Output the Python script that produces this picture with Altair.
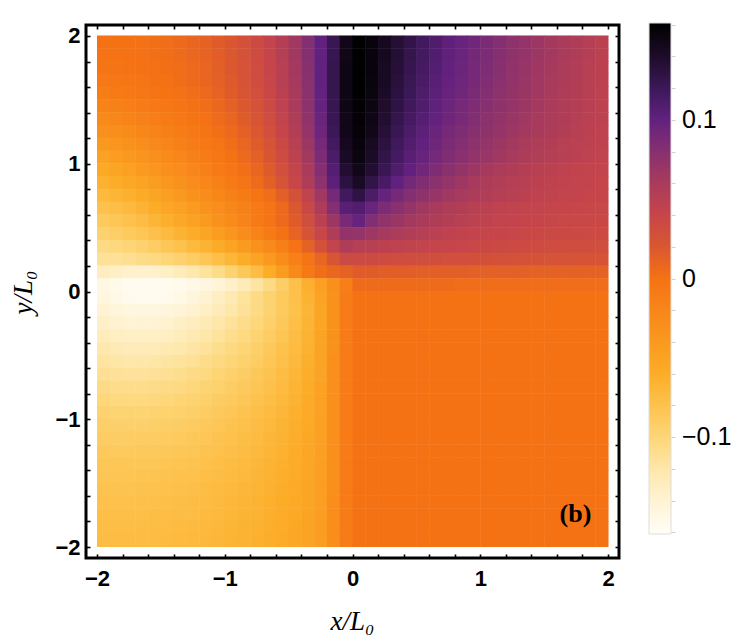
import altair as alt
import pandas as pd

# ---- grid: 40 x 40 cells of 0.1 x 0.1 (x/L0, y/L0) ----
x_centers = [-1.95, -1.85, -1.75, -1.65, -1.55, -1.45, -1.35, -1.25, -1.15, -1.05,
             -0.95, -0.85, -0.75, -0.65, -0.55, -0.45, -0.35, -0.25, -0.15, -0.05,
             0.05, 0.15, 0.25, 0.35, 0.45, 0.55, 0.65, 0.75, 0.85, 0.95,
             1.05, 1.15, 1.25, 1.35, 1.45, 1.55, 1.65, 1.75, 1.85, 1.95]
y_centers = [1.95, 1.85, 1.75, 1.65, 1.55, 1.45, 1.35, 1.25, 1.15, 1.05,
             0.95, 0.85, 0.75, 0.65, 0.55, 0.45, 0.35, 0.25, 0.15, 0.05,
             -0.05, -0.15, -0.25, -0.35, -0.45, -0.55, -0.65, -0.75, -0.85, -0.95,
             -1.05, -1.15, -1.25, -1.35, -1.45, -1.55, -1.65, -1.75, -1.85, -1.95]
half_cell = 0.05
overlap = 0.004

# ---- field values (x < 0 half, then x > 0 half) ----
r_p195 = [0.0, 0.0, 0.0, 0.001, 0.002, 0.004, 0.006, 0.009, 0.012, 0.016, 0.021, 0.027, 0.034, 0.042, 0.053, 0.066, 0.082, 0.1, 0.122, 0.148] + \
         [0.16, 0.155, 0.145, 0.135, 0.126, 0.117, 0.109, 0.102, 0.097, 0.092, 0.087, 0.082, 0.077, 0.072, 0.068, 0.064, 0.06, 0.056, 0.052, 0.048]
r_p185 = [-0.001, -0.001, 0.0, 0.001, 0.002, 0.003, 0.005, 0.008, 0.011, 0.015, 0.02, 0.026, 0.033, 0.041, 0.052, 0.065, 0.081, 0.1, 0.123, 0.149] + \
         [0.16, 0.155, 0.145, 0.135, 0.125, 0.116, 0.108, 0.101, 0.096, 0.091, 0.086, 0.081, 0.076, 0.072, 0.068, 0.064, 0.06, 0.056, 0.052, 0.048]
r_p175 = [-0.003, -0.002, -0.001, 0.0, 0.001, 0.002, 0.004, 0.007, 0.01, 0.014, 0.019, 0.025, 0.032, 0.04, 0.051, 0.064, 0.08, 0.1, 0.124, 0.15] + \
         [0.16, 0.155, 0.144, 0.134, 0.124, 0.115, 0.107, 0.1, 0.095, 0.09, 0.085, 0.08, 0.075, 0.071, 0.067, 0.063, 0.059, 0.055, 0.051, 0.048]
r_p165 = [-0.006, -0.005, -0.004, -0.002, 0.0, 0.001, 0.003, 0.006, 0.009, 0.013, 0.018, 0.024, 0.031, 0.039, 0.05, 0.063, 0.079, 0.1, 0.124, 0.15] + \
         [0.16, 0.154, 0.143, 0.132, 0.122, 0.113, 0.105, 0.099, 0.094, 0.089, 0.084, 0.079, 0.074, 0.07, 0.066, 0.062, 0.058, 0.055, 0.051, 0.048]
r_p155 = [-0.011, -0.009, -0.007, -0.005, -0.003, -0.001, 0.001, 0.004, 0.007, 0.011, 0.016, 0.022, 0.029, 0.037, 0.048, 0.061, 0.078, 0.099, 0.124, 0.15] + \
         [0.16, 0.153, 0.141, 0.13, 0.12, 0.111, 0.103, 0.097, 0.092, 0.087, 0.082, 0.077, 0.073, 0.069, 0.065, 0.061, 0.057, 0.054, 0.05, 0.047]
r_p145 = [-0.017, -0.015, -0.012, -0.01, -0.007, -0.005, -0.002, 0.001, 0.004, 0.008, 0.013, 0.019, 0.026, 0.035, 0.046, 0.06, 0.077, 0.098, 0.123, 0.15] + \
         [0.159, 0.152, 0.139, 0.128, 0.118, 0.109, 0.101, 0.095, 0.09, 0.085, 0.08, 0.076, 0.072, 0.068, 0.064, 0.06, 0.057, 0.053, 0.05, 0.047]
r_p135 = [-0.024, -0.021, -0.018, -0.015, -0.012, -0.009, -0.006, -0.003, 0.001, 0.005, 0.01, 0.016, 0.023, 0.032, 0.043, 0.057, 0.075, 0.096, 0.122, 0.149] + \
         [0.158, 0.15, 0.137, 0.125, 0.115, 0.106, 0.099, 0.093, 0.088, 0.083, 0.078, 0.074, 0.07, 0.066, 0.062, 0.059, 0.056, 0.052, 0.049, 0.047]
r_p125 = [-0.031, -0.028, -0.025, -0.021, -0.017, -0.013, -0.01, -0.006, -0.002, 0.002, 0.007, 0.013, 0.02, 0.029, 0.04, 0.054, 0.072, 0.094, 0.12, 0.148] + \
         [0.157, 0.148, 0.134, 0.122, 0.112, 0.103, 0.096, 0.09, 0.085, 0.08, 0.076, 0.072, 0.068, 0.064, 0.061, 0.058, 0.055, 0.051, 0.048, 0.046]
r_p115 = [-0.04, -0.036, -0.032, -0.028, -0.023, -0.019, -0.014, -0.01, -0.006, -0.002, 0.003, 0.009, 0.016, 0.025, 0.036, 0.05, 0.068, 0.09, 0.116, 0.145] + \
         [0.155, 0.144, 0.13, 0.118, 0.108, 0.1, 0.093, 0.087, 0.082, 0.077, 0.072, 0.068, 0.064, 0.06, 0.057, 0.054, 0.051, 0.049, 0.047, 0.045]
r_p105 = [-0.048, -0.044, -0.04, -0.035, -0.03, -0.025, -0.02, -0.015, -0.01, -0.005, 0.0, 0.006, 0.013, 0.022, 0.033, 0.047, 0.064, 0.086, 0.112, 0.142] + \
         [0.153, 0.141, 0.127, 0.115, 0.105, 0.097, 0.09, 0.084, 0.079, 0.074, 0.07, 0.066, 0.062, 0.058, 0.055, 0.052, 0.05, 0.048, 0.046, 0.044]
r_p095 = [-0.056, -0.052, -0.047, -0.042, -0.037, -0.031, -0.026, -0.02, -0.015, -0.009, -0.004, 0.002, 0.009, 0.018, 0.029, 0.043, 0.06, 0.081, 0.107, 0.137] + \
         [0.148, 0.136, 0.122, 0.11, 0.1, 0.092, 0.085, 0.079, 0.073, 0.068, 0.063, 0.059, 0.056, 0.053, 0.05, 0.048, 0.046, 0.044, 0.043, 0.042]
r_p085 = [-0.064, -0.06, -0.055, -0.05, -0.044, -0.038, -0.032, -0.026, -0.02, -0.014, -0.008, -0.002, 0.005, 0.014, 0.025, 0.039, 0.056, 0.077, 0.103, 0.13] + \
         [0.142, 0.127, 0.113, 0.1, 0.091, 0.084, 0.078, 0.072, 0.067, 0.062, 0.058, 0.055, 0.052, 0.05, 0.048, 0.046, 0.044, 0.043, 0.042, 0.041]
r_p075 = [-0.072, -0.068, -0.063, -0.058, -0.052, -0.046, -0.04, -0.033, -0.027, -0.021, -0.015, -0.009, -0.003, 0.004, 0.014, 0.027, 0.044, 0.066, 0.09, 0.117] + \
         [0.128, 0.112, 0.098, 0.089, 0.082, 0.076, 0.071, 0.066, 0.062, 0.058, 0.055, 0.052, 0.05, 0.048, 0.046, 0.044, 0.043, 0.042, 0.041, 0.04]
r_p065 = [-0.08, -0.076, -0.071, -0.066, -0.06, -0.054, -0.048, -0.041, -0.034, -0.028, -0.021, -0.015, -0.008, -0.002, 0.007, 0.02, 0.037, 0.058, 0.082, 0.105] + \
         [0.108, 0.096, 0.086, 0.079, 0.072, 0.066, 0.061, 0.057, 0.054, 0.051, 0.048, 0.046, 0.044, 0.043, 0.042, 0.041, 0.04, 0.039, 0.039, 0.038]
r_p055 = [-0.088, -0.084, -0.079, -0.074, -0.068, -0.062, -0.055, -0.048, -0.041, -0.033, -0.025, -0.017, -0.009, -0.002, 0.006, 0.016, 0.03, 0.048, 0.068, 0.088] + \
         [0.098, 0.083, 0.075, 0.069, 0.064, 0.06, 0.056, 0.053, 0.05, 0.047, 0.045, 0.043, 0.042, 0.041, 0.04, 0.039, 0.038, 0.038, 0.037, 0.037]
r_p045 = [-0.095, -0.092, -0.088, -0.083, -0.078, -0.072, -0.066, -0.059, -0.052, -0.044, -0.036, -0.027, -0.018, -0.009, 0.0, 0.011, 0.024, 0.039, 0.056, 0.073] + \
         [0.072, 0.067, 0.063, 0.059, 0.055, 0.052, 0.049, 0.046, 0.044, 0.042, 0.041, 0.04, 0.039, 0.038, 0.037, 0.036, 0.036, 0.035, 0.035, 0.034]
r_p035 = [-0.105, -0.102, -0.099, -0.095, -0.09, -0.085, -0.079, -0.072, -0.065, -0.058, -0.05, -0.042, -0.033, -0.024, -0.013, -0.001, 0.012, 0.027, 0.042, 0.056] + \
         [0.052, 0.05, 0.048, 0.046, 0.044, 0.042, 0.041, 0.04, 0.039, 0.038, 0.037, 0.036, 0.035, 0.034, 0.033, 0.032, 0.032, 0.031, 0.031, 0.03]
r_p025 = [-0.113, -0.112, -0.11, -0.107, -0.104, -0.1, -0.095, -0.09, -0.084, -0.077, -0.069, -0.06, -0.05, -0.039, -0.027, -0.014, -0.002, 0.01, 0.022, 0.035] + \
         [0.035, 0.034, 0.033, 0.032, 0.031, 0.03, 0.03, 0.029, 0.029, 0.028, 0.028, 0.027, 0.027, 0.026, 0.026, 0.025, 0.025, 0.025, 0.024, 0.024]
r_p015 = [-0.13, -0.134, -0.136, -0.137, -0.136, -0.133, -0.128, -0.122, -0.115, -0.107, -0.097, -0.086, -0.074, -0.06, -0.043, -0.024, -0.007, 0.003, 0.008, 0.012] + \
         [0.016, 0.016, 0.015, 0.015, 0.015, 0.014, 0.014, 0.014, 0.014, 0.013, 0.013, 0.013, 0.013, 0.013, 0.012, 0.012, 0.012, 0.012, 0.012, 0.012]
r_p005 = [-0.148, -0.153, -0.156, -0.157, -0.157, -0.156, -0.154, -0.151, -0.147, -0.142, -0.135, -0.127, -0.117, -0.105, -0.092, -0.078, -0.063, -0.047, -0.03, -0.013] + \
         [0.005, 0.005, 0.005, 0.005, 0.005, 0.005, 0.005, 0.005, 0.004, 0.004, 0.004, 0.004, 0.004, 0.004, 0.004, 0.004, 0.004, 0.004, 0.004, 0.004]

# lower-right quadrant is one flat orange level
right_lower = [0.0, 0.0, 0.0, 0.0, 0.0, 0.0, 0.0, 0.0, 0.0, 0.0,
               0.0, 0.0, 0.0, 0.0, 0.0, 0.0, 0.0, 0.0, 0.0, 0.0]

r_m005 = [-0.146, -0.151, -0.154, -0.156, -0.156, -0.154, -0.15, -0.145, -0.139, -0.132, -0.124, -0.115, -0.106, -0.097, -0.088, -0.078, -0.066, -0.051, -0.032, -0.01] + right_lower
r_m015 = [-0.14, -0.144, -0.146, -0.147, -0.147, -0.145, -0.142, -0.138, -0.133, -0.127, -0.12, -0.113, -0.105, -0.097, -0.088, -0.079, -0.068, -0.052, -0.032, -0.01] + right_lower
r_m025 = [-0.134, -0.138, -0.14, -0.141, -0.14, -0.138, -0.134, -0.13, -0.125, -0.12, -0.114, -0.108, -0.101, -0.094, -0.086, -0.077, -0.067, -0.052, -0.032, -0.01] + right_lower
r_m035 = [-0.128, -0.131, -0.133, -0.134, -0.133, -0.131, -0.128, -0.124, -0.12, -0.115, -0.109, -0.103, -0.097, -0.09, -0.083, -0.075, -0.065, -0.051, -0.032, -0.01] + right_lower
r_m045 = [-0.122, -0.125, -0.127, -0.127, -0.126, -0.124, -0.121, -0.118, -0.114, -0.109, -0.104, -0.099, -0.093, -0.087, -0.08, -0.073, -0.064, -0.051, -0.032, -0.01] + right_lower
r_m055 = [-0.116, -0.119, -0.12, -0.12, -0.119, -0.117, -0.115, -0.112, -0.108, -0.104, -0.1, -0.095, -0.09, -0.084, -0.078, -0.071, -0.062, -0.05, -0.031, -0.01] + right_lower
r_m065 = [-0.111, -0.113, -0.114, -0.114, -0.113, -0.111, -0.109, -0.106, -0.103, -0.099, -0.095, -0.091, -0.086, -0.081, -0.075, -0.069, -0.061, -0.05, -0.031, -0.01] + right_lower
r_m075 = [-0.106, -0.108, -0.108, -0.108, -0.107, -0.106, -0.104, -0.101, -0.098, -0.095, -0.091, -0.087, -0.083, -0.078, -0.073, -0.067, -0.06, -0.049, -0.031, -0.01] + right_lower
r_m085 = [-0.101, -0.103, -0.103, -0.103, -0.102, -0.101, -0.099, -0.097, -0.094, -0.091, -0.088, -0.084, -0.08, -0.076, -0.071, -0.065, -0.058, -0.048, -0.03, -0.01] + right_lower
r_m095 = [-0.097, -0.098, -0.098, -0.098, -0.097, -0.096, -0.095, -0.093, -0.09, -0.087, -0.084, -0.081, -0.077, -0.073, -0.069, -0.063, -0.057, -0.048, -0.03, -0.01] + right_lower
r_m105 = [-0.093, -0.094, -0.094, -0.094, -0.093, -0.092, -0.091, -0.089, -0.087, -0.084, -0.081, -0.078, -0.075, -0.071, -0.067, -0.062, -0.056, -0.047, -0.03, -0.01] + right_lower
r_m115 = [-0.09, -0.091, -0.091, -0.09, -0.09, -0.089, -0.088, -0.086, -0.084, -0.081, -0.079, -0.076, -0.073, -0.069, -0.065, -0.061, -0.055, -0.047, -0.03, -0.01] + right_lower
r_m125 = [-0.087, -0.088, -0.088, -0.087, -0.087, -0.086, -0.085, -0.083, -0.081, -0.079, -0.077, -0.074, -0.071, -0.068, -0.064, -0.06, -0.054, -0.046, -0.029, -0.01] + right_lower
r_m135 = [-0.085, -0.085, -0.085, -0.085, -0.084, -0.083, -0.082, -0.081, -0.079, -0.077, -0.075, -0.072, -0.069, -0.066, -0.063, -0.059, -0.053, -0.046, -0.029, -0.01] + right_lower
r_m145 = [-0.083, -0.083, -0.083, -0.082, -0.082, -0.081, -0.08, -0.079, -0.077, -0.075, -0.073, -0.071, -0.068, -0.065, -0.062, -0.058, -0.053, -0.045, -0.029, -0.01] + right_lower
r_m155 = [-0.081, -0.081, -0.081, -0.08, -0.08, -0.079, -0.078, -0.077, -0.075, -0.073, -0.071, -0.069, -0.067, -0.064, -0.061, -0.057, -0.052, -0.045, -0.029, -0.01] + right_lower
r_m165 = [-0.079, -0.079, -0.079, -0.078, -0.078, -0.077, -0.076, -0.075, -0.074, -0.072, -0.07, -0.068, -0.066, -0.063, -0.06, -0.056, -0.052, -0.045, -0.028, -0.01] + right_lower
r_m175 = [-0.077, -0.077, -0.077, -0.077, -0.076, -0.076, -0.075, -0.074, -0.072, -0.071, -0.069, -0.067, -0.065, -0.062, -0.059, -0.056, -0.051, -0.044, -0.028, -0.01] + right_lower
r_m185 = [-0.076, -0.076, -0.076, -0.075, -0.075, -0.074, -0.073, -0.072, -0.071, -0.07, -0.068, -0.066, -0.064, -0.062, -0.059, -0.055, -0.051, -0.044, -0.028, -0.01] + right_lower
r_m195 = [-0.075, -0.075, -0.075, -0.074, -0.074, -0.073, -0.072, -0.071, -0.07, -0.069, -0.067, -0.065, -0.063, -0.061, -0.058, -0.055, -0.05, -0.044, -0.028, -0.01] + right_lower

rows = [r_p195, r_p185, r_p175, r_p165, r_p155, r_p145, r_p135, r_p125, r_p115, r_p105,
        r_p095, r_p085, r_p075, r_p065, r_p055, r_p045, r_p035, r_p025, r_p015, r_p005,
        r_m005, r_m015, r_m025, r_m035, r_m045, r_m055, r_m065, r_m075, r_m085, r_m095,
        r_m105, r_m115, r_m125, r_m135, r_m145, r_m155, r_m165, r_m175, r_m185, r_m195]

# ---- colour map (colour bar) ----
cmap_values = [-0.161, -0.14, -0.12, -0.10, -0.08, -0.06, -0.04, -0.02, 0.0,
               0.02, 0.04, 0.06, 0.08, 0.10, 0.12, 0.14, 0.161]
cmap_colors = ["#fffdf8", "#fff3d4", "#fee7aa", "#fdd677", "#fdc24e", "#fcad28",
               "#fa991f", "#f8861a", "#f57214", "#da5730", "#c6454a", "#aa3b5b",
               "#873070", "#62217f", "#3b1858", "#1d0c29", "#000000"]
legend_values = [-0.1, 0, 0.1]
cbar_ticks = [-0.16, -0.14, -0.12, -0.10, -0.08, -0.06, -0.04, -0.02, 0.0,
              0.02, 0.04, 0.06, 0.08, 0.10, 0.12, 0.14, 0.16]

axis_ticks = [-2, -1, 0, 1, 2]
minor_ticks = [-2.0, -1.8, -1.6, -1.4, -1.2, -1.0, -0.8, -0.6, -0.4, -0.2, 0.0,
               0.2, 0.4, 0.6, 0.8, 1.0, 1.2, 1.4, 1.6, 1.8, 2.0]
dom = [-2.086, 2.086]

panel_label = ["(b)"]
panel_label_x = [1.745]
panel_label_y = [-1.745]

records = []
for yc, row in zip(y_centers, rows):
    for xc, v in zip(x_centers, row):
        records.append({"x0": xc - half_cell, "x1": xc + half_cell + overlap,
                        "y0": yc - half_cell, "y1": yc + half_cell + overlap, "v": v})
df = pd.DataFrame(records)
ann = pd.DataFrame({"x": panel_label_x, "y": panel_label_y, "t": panel_label})
cbar_df = pd.DataFrame({"c": cbar_ticks})

W = 533
H = 533
CB_X = 563      # colour bar left edge, relative to plot area
CB_TOP = -2
CB_LEN = 511
CB_THICK = 22

xscale = alt.Scale(domain=dom, nice=False, zero=False)
yscale = alt.Scale(domain=dom, nice=False, zero=False)
cscale = alt.Scale(domain=cmap_values, range=cmap_colors, interpolate="rgb")

heat = alt.Chart(df).mark_rect(strokeWidth=0).encode(
    x=alt.X("x0:Q", scale=xscale,
            axis=alt.Axis(orient="bottom", values=axis_ticks, format="d", ticks=False,
                          domain=False, grid=False, labelFont="Liberation Sans",
                          labelFontWeight="bold", labelFontSize=22, labelColor="black",
                          labelPadding=10, title="x/L₀", titleFont="Liberation Serif",
                          titleFontStyle="italic", titleFontWeight="normal",
                          titleFontSize=27, titleColor="black", titleX=266, titleY=63,
                          titleBaseline="middle", titleAlign="center")),
    x2="x1:Q",
    y=alt.Y("y0:Q", scale=yscale,
            axis=alt.Axis(orient="left", values=axis_ticks, format="d", ticks=False,
                          domain=False, grid=False, labelFont="Liberation Sans",
                          labelFontWeight="bold", labelFontSize=22, labelColor="black",
                          labelPadding=6, title="y/L₀", titleFont="Liberation Serif",
                          titleFontStyle="italic", titleFontWeight="normal",
                          titleFontSize=27, titleColor="black", titleX=-63, titleY=267,
                          titleBaseline="middle", titleAlign="center", titleAngle=270)),
    y2="y1:Q",
    color=alt.Color("v:Q", scale=cscale,
                    legend=alt.Legend(type="gradient", orient="none", legendX=CB_X,
                                      legendY=CB_TOP, direction="vertical",
                                      gradientLength=CB_LEN, gradientThickness=CB_THICK,
                                      gradientStrokeColor="#dddddd",
                                      gradientStrokeWidth=1, values=legend_values,
                                      format=".1~f", labelFont="Liberation Sans",
                                      labelFontSize=25, labelColor="black", labelOffset=11,
                                      padding=0, title=None)),
)


def tick_axis(orient):
    return alt.Axis(orient=orient, offset=-W, values=minor_ticks, labels=False,
                    domain=False, grid=False, ticks=True, tickSize=4, tickWidth=1.6,
                    tickColor="black", title=None)


label_layer = alt.Chart(ann).mark_text(
    font="Liberation Serif", fontWeight="bold", fontSize=26, color="black"
).encode(
    x=alt.X("x:Q", scale=xscale, axis=tick_axis("top")),
    y=alt.Y("y:Q", scale=yscale, axis=tick_axis("right")),
    text="t:N",
)

tick_layer = alt.Chart(ann).mark_point(opacity=0).encode(
    x=alt.X("x:Q", scale=xscale, axis=tick_axis("bottom")),
    y=alt.Y("y:Q", scale=yscale, axis=tick_axis("left")),
)

# faint tick marks on the right edge of the colour bar
cbar_tick_layer = alt.Chart(cbar_df).mark_point(opacity=0).encode(
    x=alt.value(CB_X),
    y=alt.Y("c:Q",
            scale=alt.Scale(domain=[-0.161, 0.161], range=[CB_TOP + CB_LEN, CB_TOP],
                            nice=False, zero=False),
            axis=alt.Axis(orient="right", offset=CB_X + CB_THICK - W, values=cbar_ticks,
                          labels=False, domain=False, grid=False, ticks=True, tickSize=4,
                          tickWidth=1, tickColor="#d0d0d0", title=None)),
)

chart = alt.layer(heat, label_layer, tick_layer, cbar_tick_layer).resolve_axis(
    x="independent", y="independent"
).resolve_scale(
    y="independent"
).properties(
    width=W, height=H,
    autosize=alt.AutoSizeParams(type="none"),
    padding={"left": 78, "top": 17, "right": 112, "bottom": 78},
).configure_view(stroke="black", strokeWidth=3)

chart.save("out.html", embed_options={"renderer": "svg", "actions": False})
